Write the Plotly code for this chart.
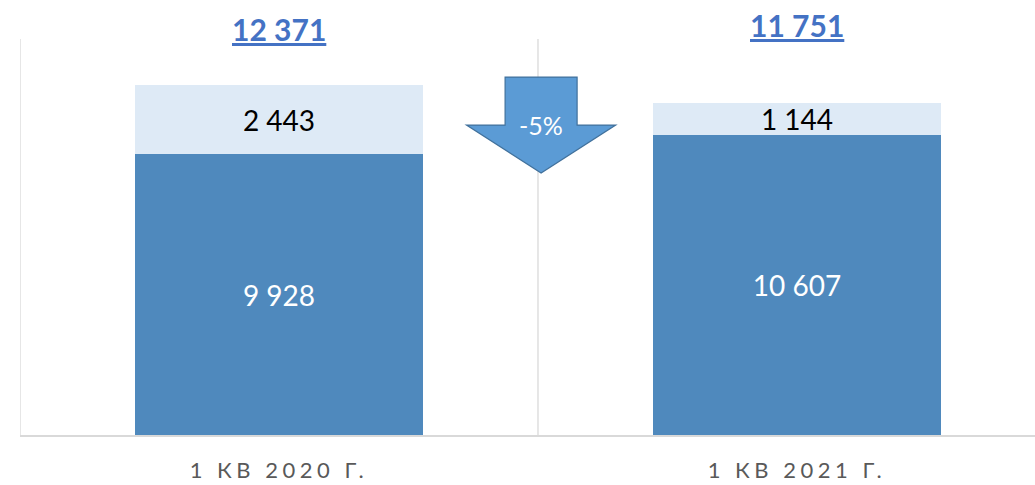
import plotly.graph_objects as go

categories = ["1 КВ 2020 Г.", "1 КВ 2021 Г."]
base_values = [9928, 10607]
extra_values = [2443, 1144]
totals = [b + e for b, e in zip(base_values, extra_values)]

def fmt(v):
    return f"{v:,}".replace(",", " ")

x_idx = [0, 1]
FONT = "Lato"

fig = go.Figure()
fig.add_trace(go.Bar(
    x=x_idx, y=base_values, width=0.556,
    marker=dict(color="#4F89BD", line=dict(width=0)),
    text=[fmt(v) for v in base_values], textposition="inside",
    insidetextanchor="middle", textangle=0, constraintext="none",
    textfont=dict(color="white", size=28, family=FONT),
    hoverinfo="skip",
))
fig.add_trace(go.Bar(
    x=x_idx, y=extra_values, width=0.556,
    marker=dict(color="#DEEAF6", line=dict(width=0)),
    text=[fmt(v) for v in extra_values], textposition="inside",
    insidetextanchor="middle", textangle=0, constraintext="none",
    textfont=dict(color="black", size=28, family=FONT),
    hoverinfo="skip",
))

# total labels
label_y = [1.026, 1.036]
for i, t in enumerate(totals):
    fig.add_annotation(
        x=x_idx[i], y=label_y[i], xref="x", yref="paper",
        text=f"<b><u>{fmt(t)}</u></b>", showarrow=False,
        font=dict(color="#4472C4", size=30, family=FONT),
        yanchor="middle",
    )

# category separators
for xv in [-0.5, 0.5]:
    fig.add_shape(type="line", x0=xv, x1=xv, y0=0, y1=1, xref="x", yref="paper",
                  line=dict(color="#D9D9D9", width=1.3), layer="below")

# change arrow
pct = round((totals[1] - totals[0]) / totals[0] * 100)
cx = 0.506
sw, hw = 0.0695, 0.144
yt, yw, ytip = 12655, 10958, 9261
path = (f"M {cx-sw},{yt} L {cx+sw},{yt} L {cx+sw},{yw} L {cx+hw},{yw} "
        f"L {cx},{ytip} L {cx-hw},{yw} L {cx-sw},{yw} Z")
fig.add_shape(type="path", path=path, xref="x", yref="y",
              fillcolor="#5B9BD5", line=dict(color="#41719C", width=1.2))
fig.add_annotation(x=cx, y=yw, xref="x", yref="y", text=f"{pct}%", showarrow=False,
                   font=dict(color="white", size=25, family=FONT), yanchor="middle")

fig.update_layout(
    barmode="stack", width=1035, height=485,
    margin=dict(l=20, r=0, t=39, b=50),
    paper_bgcolor="white", plot_bgcolor="white",
    showlegend=False,
    xaxis=dict(
        range=[-0.5, 1.4595], tickmode="array", tickvals=x_idx,
        ticktext=[f'<span style="letter-spacing:4.5px">{c}</span>' for c in categories],
        showgrid=False, zeroline=False, showline=True, linecolor="#D9D9D9", linewidth=1.5,
        ticks="", ticklabelstandoff=15, automargin=False,
        tickfont=dict(color="#595959", size=22, family=FONT),
    ),
    yaxis=dict(range=[0, 14000], visible=False, showgrid=False, zeroline=False),
)

fig.write_html("out.html", config={"displayModeBar": False, "staticPlot": True},
               post_script="document.body.style.margin='0';document.body.style.overflow='hidden';")
